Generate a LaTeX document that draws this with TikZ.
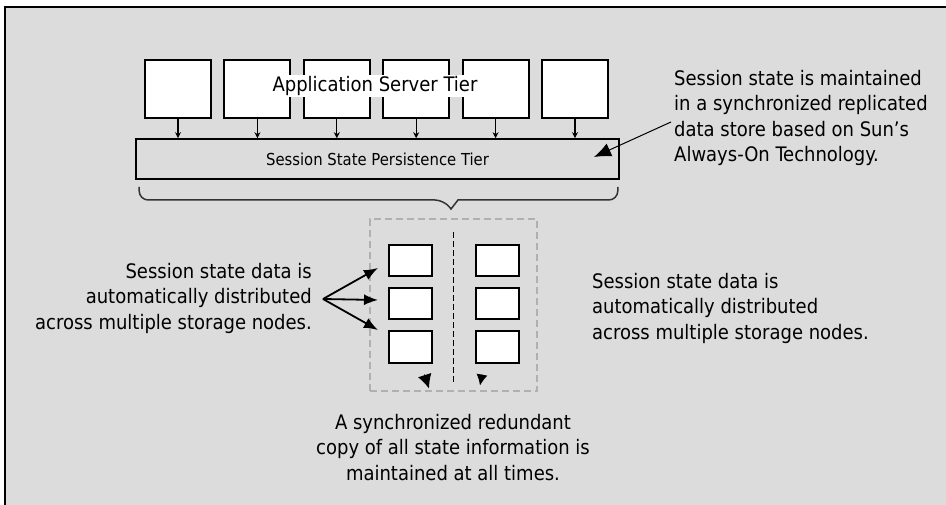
\documentclass[tikz,border=0pt]{standalone}
\usepackage{fontspec}
\setmainfont{DejaVu Sans Condensed}
\usetikzlibrary{arrows.meta,calc,positioning}
\definecolor{panelgray}{RGB}{220,220,220}
\definecolor{groupgray}{RGB}{176,176,176}
\tikzset{
	tier diagram/.style={
		x=1pt, y=-1pt,
		font=\fontsize{20}{25.5}\selectfont,
		txt/.style={inner sep=0pt, text=black},
		appbox/.style={draw, fill=white, line width=2pt,
			minimum width=66pt, minimum height=58pt, inner sep=0pt},
		storebox/.style={draw, fill=white, line width=2pt,
			minimum width=43pt, minimum height=31pt, inner sep=0pt},
		tierbox/.style={draw, line width=1.6pt, minimum width=483pt,
			minimum height=40pt, inner sep=0pt},
		feed/.style={-{Stealth[length=6pt,width=6pt]}, line width=1.2pt},
		fan/.style={-{Latex[length=14pt,width=11pt]}, line width=1.8pt},
		sync/.style={-{Latex[length=##1,width=##1]}, line width=1pt},
	},
}

\begin{document}
\begin{tikzpicture}[tier diagram]
	\useasboundingbox (0,0) rectangle (946,505);
	\fill[white] (0,0) rectangle (946,505);
	\fill[panelgray] (6,8) rectangle (946,505);
	\draw[line width=2pt] (5,505) -- (5,7) -- (946,7);

	\foreach \i in {1,...,6}
		\node[appbox] (app\i) at ({178+79.4*(\i-1)},89) {};
	\node[tierbox, font=\fontsize{16.5}{18}\selectfont] (persist) at (377.5,159) {Session State Persistence Tier};
	\foreach \i in {1,...,6}
		\draw[feed] (app\i.south) -- (app\i.south |- persist.north);
	\node[txt, fill=white, inner sep=1.5pt] (apptitle) at (375,86) {Application Server Tier};

	\node[txt, anchor=north west, align=left] (note) at (674,70)
		{Session state is maintained\\in a synchronized replicated\\data store based on Sun's\\Always-On Technology.};
	\coordinate (notefoot) at (671,122);
	\coordinate (persisttip) at (594,157);
	\draw[-{Latex[length=17pt,width=14pt]}, line width=1pt] (notefoot) -- (persisttip);

	\draw[line width=1.5pt, black!80, rounded corners=9pt]
		($(persist.south west)+(4,7)$) |- (444,200) [sharp corners] -- (451,209) -- (458,200)
		[rounded corners=9pt] -| ($(persist.south east)+(-2,7)$);

	\node[draw=groupgray, dashed, dash pattern=on 7pt off 4pt, line width=1.5pt,
		minimum width=167pt, minimum height=172pt] (group) at (453.5,305) {};
	\draw[dashed, dash pattern=on 6pt off 3pt, line width=1.5pt]
		($(group.north)+(0,14)$) -- ($(group.south)+(0,-8)$);
	\foreach \r/\yy in {1/260.5,2/304,3/347} {
		\node[storebox] (stL\r) at (410.5,\yy) {};
		\node[storebox] (stR\r) at (497.5,\yy) {};
	}

	\node[txt, anchor=north east, align=right] (lefttext) at (312,263)
		{Session state data is\\automatically distributed\\across multiple storage nodes.};
	\coordinate (fanout) at (323,299);
	\draw[fan] (fanout) -- ($(stL1.west)+(-10,7.5)$);
	\draw[fan] (fanout) -- ($(stL2.west)+(-10,-4)$);
	\draw[fan] (fanout) -- ($(stL3.west)+(-10,-17)$);

	\node[txt, anchor=north west, align=left] (righttext) at (592,273)
		{Session state data is\\automatically distributed\\across multiple storage nodes.};

	\draw[sync=14pt] ($(stL3.south)+(14,11)$) -- ($(stL3.south)+(18.5,25)$);
	\draw[sync=11pt] ($(stR3.south)+(-15.5,11)$) -- ($(stR3.south)+(-17.5,22)$);

	\node[txt, anchor=north, align=center] (synctext) at (453,414)
		{A synchronized redundant\\copy of all state information is\\maintained at all times.};
\end{tikzpicture}
\end{document}
